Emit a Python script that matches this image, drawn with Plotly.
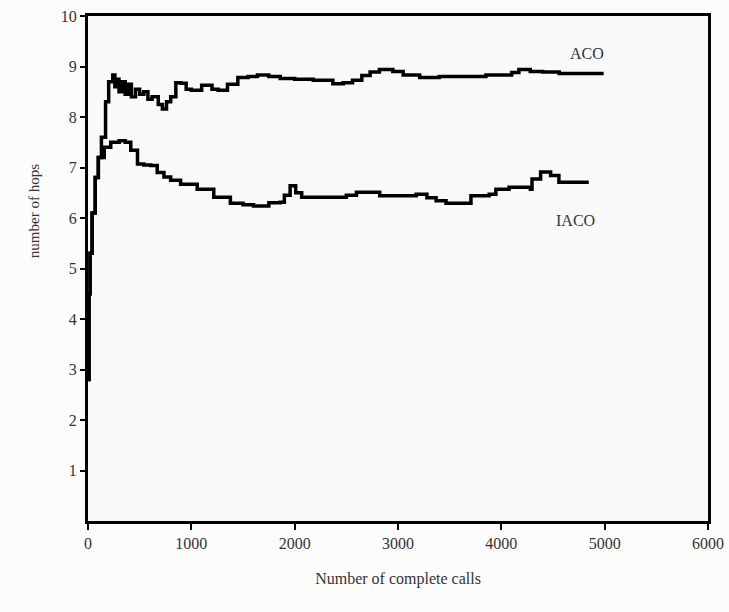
import plotly.graph_objects as go

# ACO series (number of complete calls, number of hops)
aco_x = [0, 10, 20, 40, 70, 100, 130, 170, 200, 240, 260, 280, 300, 330, 360, 390, 420, 460,
         500, 540, 580, 620, 680, 720, 760, 800, 850, 900, 950, 1000, 1100, 1200, 1260, 1350,
         1450, 1550, 1640, 1750, 1860, 2000, 2180, 2370, 2470, 2560, 2650, 2730, 2820, 2950,
         3050, 3210, 3400, 3600, 3850, 4010, 4100, 4170, 4280, 4400, 4560, 4700, 4990]
aco_y = [2.8, 4.5, 5.3, 6.1, 6.8, 7.2, 7.6, 8.3, 8.7, 8.83, 8.6, 8.75, 8.5, 8.7, 8.45, 8.65, 8.4,
         8.55, 8.45, 8.5, 8.35, 8.4, 8.25, 8.16, 8.3, 8.4, 8.68, 8.67, 8.55, 8.53, 8.63, 8.55,
         8.53, 8.65, 8.78, 8.8, 8.83, 8.8, 8.76, 8.75, 8.73, 8.66, 8.68, 8.73, 8.82, 8.89, 8.94,
         8.9, 8.83, 8.78, 8.8, 8.8, 8.83, 8.83, 8.88, 8.94, 8.9, 8.89, 8.86, 8.86, 8.86]

# IACO series
iaco_x = [0, 10, 20, 40, 70, 100, 157, 220, 302, 360, 414, 479, 540, 607, 670, 735, 800, 896,
          1057, 1217, 1378, 1500, 1602, 1750, 1859, 1900, 1956, 2010, 2068, 2200, 2406, 2500,
          2598, 2726, 2823, 3000, 3176, 3280, 3369, 3465, 3658, 3706, 3882, 3947, 4075, 4281,
          4297, 4380, 4477, 4557, 4846]
iaco_y = [2.8, 4.5, 5.3, 6.1, 6.8, 7.2, 7.4, 7.5, 7.53, 7.5, 7.34, 7.07, 7.05, 7.04, 6.9, 6.81,
          6.75, 6.67, 6.57, 6.41, 6.29, 6.26, 6.24, 6.3, 6.31, 6.45, 6.64, 6.5, 6.41, 6.41,
          6.41, 6.45, 6.51, 6.51, 6.44, 6.44, 6.47, 6.4, 6.34, 6.29, 6.29, 6.44, 6.47, 6.57,
          6.61, 6.57, 6.77, 6.91, 6.84, 6.71, 6.71]

x_ticks = [0, 1000, 2000, 3000, 4000, 5000, 6000]
y_ticks = [1, 2, 3, 4, 5, 6, 7, 8, 9, 10]

font_family = "Liberation Serif"

fig = go.Figure()
fig.add_trace(go.Scatter(x=aco_x, y=aco_y, mode="lines", name="ACO",
                         line=dict(color="black", width=3.5, shape="hv")))
fig.add_trace(go.Scatter(x=iaco_x, y=iaco_y, mode="lines", name="IACO",
                         line=dict(color="black", width=3.5, shape="hv")))

fig.add_annotation(x=4830, y=9.25, text="ACO", showarrow=False, xanchor="center",
                   yanchor="middle", font=dict(family=font_family, size=16, color="#333"))
fig.add_annotation(x=4720, y=5.95, text="IACO", showarrow=False, xanchor="center",
                   yanchor="middle", font=dict(family=font_family, size=16, color="#333"))
fig.add_annotation(xref="paper", yref="paper", x=-0.0867, y=0.614, text="number of hops",
                   textangle=-90, showarrow=False, xanchor="center", yanchor="middle",
                   font=dict(family=font_family, size=15, color="#333"))

fig.update_layout(
    width=729, height=612,
    margin=dict(l=88, r=21, t=16, b=91),
    paper_bgcolor="#fcfcfc",
    plot_bgcolor="#f9f9f9",
    showlegend=False,
    font=dict(family=font_family, size=16, color="#333"),
    xaxis=dict(range=[0, 6000], tickvals=x_ticks, ticks="outside", ticklen=6, tickwidth=2,
               tickcolor="black", showline=True, linecolor="black", linewidth=3, mirror=True,
               showgrid=False, zeroline=False, ticklabeloverflow="allow", automargin=False,
               title=dict(text="Number of complete calls", font=dict(size=16), standoff=22)),
    yaxis=dict(range=[0, 10], tickvals=y_ticks, ticks="outside", ticklen=5, tickwidth=2,
               tickcolor="black", showline=True, linecolor="black", linewidth=3, mirror=True,
               showgrid=False, zeroline=False, automargin=False),
)

fig.write_html("out.html", config={"displayModeBar": False},
               post_script="document.body.style.margin='0px';"
                           "document.body.style.overflow='hidden';")
